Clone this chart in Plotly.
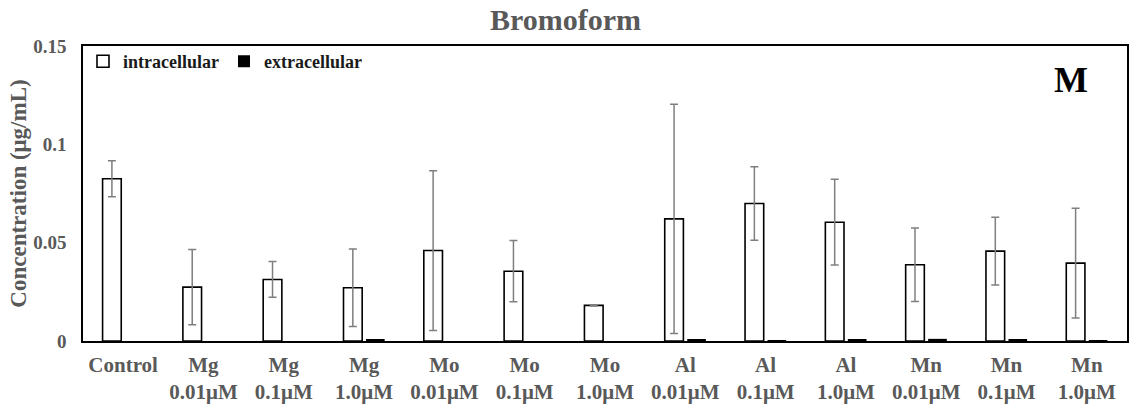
import plotly.graph_objects as go

categories = ["Control", "Mg<br>0.01μM", "Mg<br>0.1μM", "Mg<br>1.0μM",
              "Mo<br>0.01μM", "Mo<br>0.1μM", "Mo<br>1.0μM",
              "Al<br>0.01μM", "Al<br>0.1μM", "Al<br>1.0μM",
              "Mn<br>0.01μM", "Mn<br>0.1μM", "Mn<br>1.0μM"]
intracellular = [0.0825, 0.0274, 0.0313, 0.0271, 0.0460, 0.0355, 0.0181,
                 0.0621, 0.0699, 0.0604, 0.0388, 0.0457, 0.0396]
intracellular_err = [0.0092, 0.0191, 0.0091, 0.0197, 0.0406, 0.0156, 0.0003,
                     0.0583, 0.0187, 0.0218, 0.0187, 0.0172, 0.0279]
extracellular = [0.0, 0.0, 0.0, 0.0008, 0.0, 0.0, 0.0,
                 0.0007, 0.0003, 0.0007, 0.0011, 0.0007, 0.0004]
y_ticks = [0, 0.05, 0.1, 0.15]
y_ticktext = ["0", "0.05", "0.1", "0.15"]

serif = "Liberation Serif, Times New Roman, serif"
gray = "#595959"

fig = go.Figure()
fig.add_trace(go.Bar(
    x=categories, y=intracellular, name="<b>intracellular</b>",
    marker=dict(color="white", line=dict(color="black", width=1.6)),
    error_y=dict(type="data", array=intracellular_err, visible=True,
                 color="#7f7f7f", thickness=1.5, width=4),
))
fig.add_trace(go.Bar(
    x=categories, y=extracellular, name="<b>extracellular</b>",
    marker=dict(color="black", line=dict(color="black", width=0)),
))

fig.update_layout(
    width=1131, height=406,
    margin=dict(l=83, r=2, t=46, b=64),
    plot_bgcolor="white", paper_bgcolor="white",
    barmode="group", bargap=0.44, bargroupgap=0.17,
    title=dict(text="<b>Bromoform</b>", x=0.5, xanchor="center",
               y=0.953, yanchor="middle",
               font=dict(family=serif, size=30, color=gray)),
    legend=dict(orientation="h", x=0.0, y=1.01, xanchor="left", yanchor="top",
                font=dict(family=serif, size=18, color="#1a1a1a"),
                bgcolor="rgba(0,0,0,0)", itemwidth=30, tracegroupgap=0),
    showlegend=True,
    font=dict(family=serif),
)
fig.update_xaxes(
    showline=True, linecolor="black", linewidth=1.5, mirror=True,
    tickfont=dict(family=serif, size=21, color=gray),
    ticks="", showgrid=False, ticklabelstandoff=4,
    tickprefix="<b>", ticksuffix="</b>",
)
fig.update_yaxes(
    range=[0, 0.15], tickvals=y_ticks,
    ticktext=["<b>" + t + "</b>" for t in y_ticktext],
    showline=True, linecolor="black", linewidth=1.5, mirror=True,
    tickfont=dict(family=serif, size=19, color=gray),
    showgrid=False, zeroline=False, ticks="", ticklabelstandoff=11,
    title=dict(text="<b>Concentration (μg/mL)</b>",
               font=dict(family=serif, size=23, color=gray), standoff=0),
)
fig.add_annotation(text="<b>M</b>", xref="paper", yref="paper",
                   x=0.946, y=0.885, showarrow=False,
                   xanchor="center", yanchor="middle",
                   font=dict(family=serif, size=36, color="black"))

fig.write_html("out.html")
